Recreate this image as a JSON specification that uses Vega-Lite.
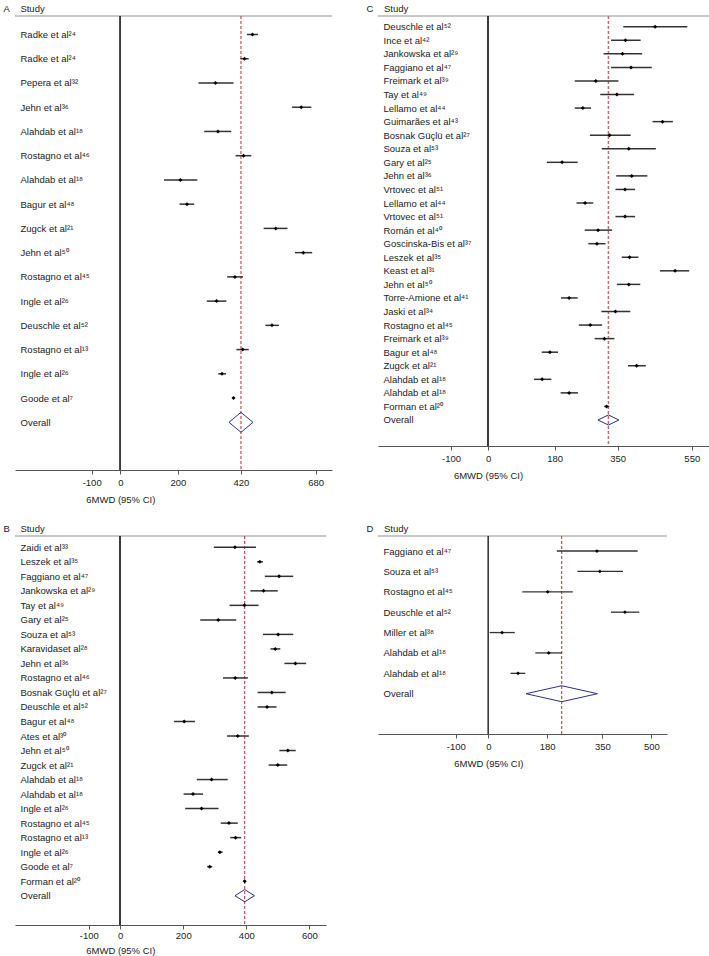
{
  "$schema": "https://vega.github.io/schema/vega-lite/v6.json",
  "padding": {"left": 2, "top": 2, "right": 0, "bottom": 0},
  "autosize": {"type": "pad"},
  "columns": 2,
  "spacing": {"row": 66, "column": 46},
  "bounds": "flush",
  "align": "each",
  "config": {
    "font": "Liberation Sans",
    "locale": {"number": {"decimal": ".", "thousands": ",", "grouping": [3], "currency": ["$", ""], "minus": "-"}},
    "view": {"stroke": null},
    "axis": {"labelFont": "Liberation Sans", "titleFont": "Liberation Sans", "labelColor": "#222", "titleColor": "#222", "titleFontWeight": "normal", "grid": false},
    "axisX": {"orient": "bottom", "domainColor": "#555", "tickColor": "#555", "tickSize": 4, "labelFontSize": 9.5, "labelPadding": 3, "labelFlush": false, "labelOverlap": false, "titleFontSize": 9.5, "titleY": 32, "titleAlign": "center", "titleBaseline": "alphabetic"},
    "axisY": {"orient": "left", "domain": false, "ticks": false, "tickSize": 0, "labelAlign": "left", "labelPadding": -5, "labelBaseline": "middle", "labelFontSize": 9.5, "labelOverlap": false, "titleAngle": 0, "titleX": -12, "titleY": -4.5, "titleAlign": "left", "titleBaseline": "alphabetic", "titleFontSize": 9.5}
  },
  "concat": [
    {
      "width": 317, "height": 454,
      "view": {"stroke": "#c8c8c8", "strokeWidth": 2, "strokeDash": [317, 4000]},
      "data": {"values": [
        {"k": "01|Radke et al²⁴", "est": 460, "lo": 441, "hi": 479, "t": "s"},
        {"k": "02|Radke et al²⁴", "est": 432, "lo": 418, "hi": 447, "t": "s"},
        {"k": "03|Pepera et al³²", "est": 331, "lo": 272, "hi": 394, "t": "s"},
        {"k": "04|Jehn et al³⁶", "est": 630, "lo": 598, "hi": 665, "t": "s"},
        {"k": "05|Alahdab et al¹⁸", "est": 340, "lo": 292, "hi": 386, "t": "s"},
        {"k": "06|Rostagno et al⁴⁶", "est": 429, "lo": 401, "hi": 456, "t": "s"},
        {"k": "07|Alahdab et al¹⁸", "est": 209, "lo": 152, "hi": 268, "t": "s"},
        {"k": "08|Bagur et al⁴⁸", "est": 232, "lo": 206, "hi": 257, "t": "s"},
        {"k": "09|Zugck et al²¹", "est": 541, "lo": 499, "hi": 582, "t": "s"},
        {"k": "10|Jehn et al⁵⁰", "est": 637, "lo": 608, "hi": 668, "t": "s"},
        {"k": "11|Rostagno et al⁴⁵", "est": 399, "lo": 372, "hi": 427, "t": "s"},
        {"k": "12|Ingle et al²⁶", "est": 335, "lo": 301, "hi": 369, "t": "s"},
        {"k": "13|Deuschle et al⁵²", "est": 528, "lo": 505, "hi": 552, "t": "s"},
        {"k": "14|Rostagno et al¹³", "est": 426, "lo": 404, "hi": 447, "t": "s"},
        {"k": "15|Ingle et al²⁶", "est": 354, "lo": 341, "hi": 368, "t": "s"},
        {"k": "16|Goode et al⁷", "est": 394, "lo": 391, "hi": 397, "t": "s"},
        {"k": "17|Overall", "est": 420, "lo": 377, "hi": 461, "t": "o"}
      ]},
      "layer": [
        {"mark": {"type": "rule", "color": "#3a3a3a", "strokeWidth": 1},
         "encoding": {"x": {"datum": 0, "type": "quantitative", "scale": {"domain": [-367, 737], "nice": false, "zero": false},
           "axis": {"values": [-100, 0, 200, 420, 680], "title": "6MWD (95% CI)", "titleX": 105.3}}}},
        {"transform": [{"filter": "datum.t == 'o'"}],
         "mark": {"type": "rule", "color": "#b0303a", "strokeWidth": 1, "strokeDash": [3, 2]},
         "encoding": {"x": {"field": "est", "type": "quantitative", "scale": {"domain": [-367, 737], "nice": false, "zero": false},
           "axis": {"values": [-100, 0, 200, 420, 680], "title": "6MWD (95% CI)", "titleX": 105.3}}}},
        {"transform": [{"filter": "datum.t == 's'"}],
         "mark": {"type": "rule", "color": "#333", "strokeWidth": 1.5},
         "encoding": {"x": {"field": "lo", "type": "quantitative", "scale": {"domain": [-367, 737], "nice": false, "zero": false},
           "axis": {"values": [-100, 0, 200, 420, 680], "title": "6MWD (95% CI)", "titleX": 105.3}}, "x2": {"field": "hi"},
           "y": {"field": "k", "type": "nominal", "scale": {"type": "point", "padding": 0.8656, "align": 0.4409,
             "domain": ["01|Radke et al²⁴", "02|Radke et al²⁴", "03|Pepera et al³²", "04|Jehn et al³⁶", "05|Alahdab et al¹⁸", "06|Rostagno et al⁴⁶", "07|Alahdab et al¹⁸", "08|Bagur et al⁴⁸", "09|Zugck et al²¹", "10|Jehn et al⁵⁰", "11|Rostagno et al⁴⁵", "12|Ingle et al²⁶", "13|Deuschle et al⁵²", "14|Rostagno et al¹³", "15|Ingle et al²⁶", "16|Goode et al⁷", "17|Overall", "18|"]},
             "axis": {"labelExpr": "split(datum.value, '|')[1]", "title": "A\u00a0\u00a0\u00a0\u00a0Study"}}}},
        {"transform": [{"filter": "datum.t == 's'"}],
         "mark": {"type": "point", "shape": "diamond", "filled": true, "color": "#000", "size": 16, "opacity": 1},
         "encoding": {"x": {"field": "est", "type": "quantitative", "scale": {"domain": [-367, 737], "nice": false, "zero": false},
           "axis": {"values": [-100, 0, 200, 420, 680], "title": "6MWD (95% CI)", "titleX": 105.3}},
           "y": {"field": "k", "type": "nominal", "scale": {"type": "point", "padding": 0.8656, "align": 0.4409},
             "axis": {"labelExpr": "split(datum.value, '|')[1]", "title": "A\u00a0\u00a0\u00a0\u00a0Study"}}}},
        {"transform": [{"filter": "datum.t == 'o'"}],
         "mark": {"type": "point", "shape": "M-1,0L0,-0.833L1,0L0,0.833Z", "filled": false, "stroke": "#2e3080", "strokeWidth": 1, "size": 576, "opacity": 1},
         "encoding": {"x": {"field": "est", "type": "quantitative", "scale": {"domain": [-367, 737], "nice": false, "zero": false},
           "axis": {"values": [-100, 0, 200, 420, 680], "title": "6MWD (95% CI)", "titleX": 105.3}},
           "y": {"field": "k", "type": "nominal", "scale": {"type": "point", "padding": 0.8656, "align": 0.4409},
             "axis": {"labelExpr": "split(datum.value, '|')[1]", "title": "A\u00a0\u00a0\u00a0\u00a0Study"}}}}
      ]
    },
    {
      "width": 331, "height": 430,
      "view": {"stroke": "#c8c8c8", "strokeWidth": 2, "strokeDash": [331, 4000]},
      "data": {"values": [
        {"k": "01|Deuschle et al⁵²", "est": 451, "lo": 365, "hi": 538, "t": "s"},
        {"k": "02|Ince et al⁴²", "est": 371, "lo": 332, "hi": 412, "t": "s"},
        {"k": "03|Jankowska et al²⁹", "est": 363, "lo": 312, "hi": 416, "t": "s"},
        {"k": "04|Faggiano et al⁴⁷", "est": 386, "lo": 332, "hi": 442, "t": "s"},
        {"k": "05|Freimark et al³⁹", "est": 291, "lo": 234, "hi": 352, "t": "s"},
        {"k": "06|Tay et al⁴⁹", "est": 348, "lo": 303, "hi": 394, "t": "s"},
        {"k": "07|Lellamo et al⁴⁴", "est": 256, "lo": 234, "hi": 278, "t": "s"},
        {"k": "08|Guimarães et al⁴³", "est": 471, "lo": 444, "hi": 499, "t": "s"},
        {"k": "09|Bosnak Güçlü et al²⁷", "est": 328, "lo": 275, "hi": 385, "t": "s"},
        {"k": "10|Souza et al⁵³", "est": 380, "lo": 307, "hi": 453, "t": "s"},
        {"k": "11|Gary et al²⁵", "est": 200, "lo": 159, "hi": 242, "t": "s"},
        {"k": "12|Jehn et al³⁶", "est": 388, "lo": 346, "hi": 430, "t": "s"},
        {"k": "13|Vrtovec et al⁵¹", "est": 370, "lo": 344, "hi": 397, "t": "s"},
        {"k": "14|Lellamo et al⁴⁴", "est": 262, "lo": 239, "hi": 284, "t": "s"},
        {"k": "15|Vrtovec et al⁵¹", "est": 370, "lo": 344, "hi": 397, "t": "s"},
        {"k": "16|Román et al⁴⁰", "est": 297, "lo": 261, "hi": 335, "t": "s"},
        {"k": "17|Goscinska-Bis et al³⁷", "est": 294, "lo": 271, "hi": 317, "t": "s"},
        {"k": "18|Leszek et al³⁵", "est": 382, "lo": 361, "hi": 406, "t": "s"},
        {"k": "19|Keast et al³¹", "est": 505, "lo": 464, "hi": 543, "t": "s"},
        {"k": "20|Jehn et al⁵⁰", "est": 380, "lo": 348, "hi": 411, "t": "s"},
        {"k": "21|Torre-Amione et al⁴¹", "est": 219, "lo": 197, "hi": 242, "t": "s"},
        {"k": "22|Jaski et al³⁴", "est": 344, "lo": 306, "hi": 384, "t": "s"},
        {"k": "23|Rostagno et al⁴⁵", "est": 276, "lo": 245, "hi": 308, "t": "s"},
        {"k": "24|Freimark et al³⁹", "est": 314, "lo": 288, "hi": 341, "t": "s"},
        {"k": "25|Bagur et al⁴⁸", "est": 167, "lo": 145, "hi": 189, "t": "s"},
        {"k": "26|Zugck et al²¹", "est": 401, "lo": 378, "hi": 426, "t": "s"},
        {"k": "27|Alahdab et al¹⁸", "est": 146, "lo": 124, "hi": 171, "t": "s"},
        {"k": "28|Alahdab et al¹⁸", "est": 219, "lo": 196, "hi": 243, "t": "s"},
        {"k": "29|Forman et al²⁰", "est": 320, "lo": 314, "hi": 327, "t": "s"},
        {"k": "30|Overall", "est": 325, "lo": 297, "hi": 354, "t": "o"}
      ]},
      "layer": [
        {"mark": {"type": "rule", "color": "#3a3a3a", "strokeWidth": 1},
         "encoding": {"x": {"datum": 0, "type": "quantitative", "scale": {"domain": [-297, 596.5], "nice": false, "zero": false},
           "axis": {"values": [-100, 0, 180, 350, 550], "title": "6MWD (95% CI)", "titleX": 110}}}},
        {"transform": [{"filter": "datum.t == 'o'"}],
         "mark": {"type": "rule", "color": "#c06a78", "strokeWidth": 1.5, "strokeDash": [3, 2]},
         "encoding": {"x": {"field": "est", "type": "quantitative", "scale": {"domain": [-297, 596.5], "nice": false, "zero": false},
           "axis": {"values": [-100, 0, 180, 350, 550], "title": "6MWD (95% CI)", "titleX": 110}}}},
        {"transform": [{"filter": "datum.t == 's'"}],
         "mark": {"type": "rule", "color": "#333", "strokeWidth": 1.5},
         "encoding": {"x": {"field": "lo", "type": "quantitative", "scale": {"domain": [-297, 596.5], "nice": false, "zero": false},
           "axis": {"values": [-100, 0, 180, 350, 550], "title": "6MWD (95% CI)", "titleX": 110}}, "x2": {"field": "hi"},
           "y": {"field": "k", "type": "nominal", "scale": {"type": "point", "padding": 0.853, "align": 0.4624,
             "domain": ["01|Deuschle et al⁵²", "02|Ince et al⁴²", "03|Jankowska et al²⁹", "04|Faggiano et al⁴⁷", "05|Freimark et al³⁹", "06|Tay et al⁴⁹", "07|Lellamo et al⁴⁴", "08|Guimarães et al⁴³", "09|Bosnak Güçlü et al²⁷", "10|Souza et al⁵³", "11|Gary et al²⁵", "12|Jehn et al³⁶", "13|Vrtovec et al⁵¹", "14|Lellamo et al⁴⁴", "15|Vrtovec et al⁵¹", "16|Román et al⁴⁰", "17|Goscinska-Bis et al³⁷", "18|Leszek et al³⁵", "19|Keast et al³¹", "20|Jehn et al⁵⁰", "21|Torre-Amione et al⁴¹", "22|Jaski et al³⁴", "23|Rostagno et al⁴⁵", "24|Freimark et al³⁹", "25|Bagur et al⁴⁸", "26|Zugck et al²¹", "27|Alahdab et al¹⁸", "28|Alahdab et al¹⁸", "29|Forman et al²⁰", "30|Overall", "31|"]},
             "axis": {"labelExpr": "split(datum.value, '|')[1]", "title": "C\u00a0\u00a0\u00a0\u00a0Study"}}}},
        {"transform": [{"filter": "datum.t == 's'"}],
         "mark": {"type": "point", "shape": "diamond", "filled": true, "color": "#000", "size": 16, "opacity": 1},
         "encoding": {"x": {"field": "est", "type": "quantitative", "scale": {"domain": [-297, 596.5], "nice": false, "zero": false},
           "axis": {"values": [-100, 0, 180, 350, 550], "title": "6MWD (95% CI)", "titleX": 110}},
           "y": {"field": "k", "type": "nominal", "scale": {"type": "point", "padding": 0.853, "align": 0.4624},
             "axis": {"labelExpr": "split(datum.value, '|')[1]", "title": "C\u00a0\u00a0\u00a0\u00a0Study"}}}},
        {"transform": [{"filter": "datum.t == 'o'"}],
         "mark": {"type": "point", "shape": "M-1,0L0,-0.48L1,0L0,0.48Z", "filled": false, "stroke": "#2e3080", "strokeWidth": 1, "size": 441, "opacity": 1},
         "encoding": {"x": {"field": "est", "type": "quantitative", "scale": {"domain": [-297, 596.5], "nice": false, "zero": false},
           "axis": {"values": [-100, 0, 180, 350, 550], "title": "6MWD (95% CI)", "titleX": 110}},
           "y": {"field": "k", "type": "nominal", "scale": {"type": "point", "padding": 0.853, "align": 0.4624},
             "axis": {"labelExpr": "split(datum.value, '|')[1]", "title": "C\u00a0\u00a0\u00a0\u00a0Study"}}}}
      ]
    },
    {
      "width": 311, "height": 389,
      "view": {"stroke": "#c8c8c8", "strokeWidth": 2, "strokeDash": [311, 4000]},
      "data": {"values": [
        {"k": "01|Zaidi et al³³", "est": 364, "lo": 297, "hi": 431, "t": "s"},
        {"k": "02|Leszek et al³⁵", "est": 443, "lo": 434, "hi": 453, "t": "s"},
        {"k": "03|Faggiano et al⁴⁷", "est": 504, "lo": 459, "hi": 549, "t": "s"},
        {"k": "04|Jankowska et al²⁹", "est": 455, "lo": 413, "hi": 500, "t": "s"},
        {"k": "05|Tay et al⁴⁹", "est": 394, "lo": 347, "hi": 439, "t": "s"},
        {"k": "06|Gary et al²⁵", "est": 311, "lo": 254, "hi": 368, "t": "s"},
        {"k": "07|Souza et al⁵³", "est": 501, "lo": 453, "hi": 549, "t": "s"},
        {"k": "08|Karavidaset al²⁸", "est": 492, "lo": 477, "hi": 508, "t": "s"},
        {"k": "09|Jehn et al³⁶", "est": 556, "lo": 521, "hi": 590, "t": "s"},
        {"k": "10|Rostagno et al⁴⁶", "est": 365, "lo": 326, "hi": 405, "t": "s"},
        {"k": "11|Bosnak Güçlü et al²⁷", "est": 481, "lo": 436, "hi": 525, "t": "s"},
        {"k": "12|Deuschle et al⁵²", "est": 466, "lo": 436, "hi": 496, "t": "s"},
        {"k": "13|Bagur et al⁴⁸", "est": 203, "lo": 171, "hi": 237, "t": "s"},
        {"k": "14|Ates et al³⁰", "est": 373, "lo": 339, "hi": 408, "t": "s"},
        {"k": "15|Jehn et al⁵⁰", "est": 532, "lo": 505, "hi": 557, "t": "s"},
        {"k": "16|Zugck et al²¹", "est": 500, "lo": 471, "hi": 530, "t": "s"},
        {"k": "17|Alahdab et al¹⁸", "est": 290, "lo": 243, "hi": 341, "t": "s"},
        {"k": "18|Alahdab et al¹⁸", "est": 231, "lo": 201, "hi": 263, "t": "s"},
        {"k": "19|Ingle et al²⁶", "est": 258, "lo": 206, "hi": 312, "t": "s"},
        {"k": "20|Rostagno et al⁴⁵", "est": 345, "lo": 319, "hi": 373, "t": "s"},
        {"k": "21|Rostagno et al¹³", "est": 366, "lo": 349, "hi": 384, "t": "s"},
        {"k": "22|Ingle et al²⁶", "est": 316, "lo": 310, "hi": 325, "t": "s"},
        {"k": "23|Goode et al⁷", "est": 284, "lo": 276, "hi": 292, "t": "s"},
        {"k": "24|Forman et al²⁰", "est": 395, "lo": 391, "hi": 399, "t": "s"},
        {"k": "25|Overall", "est": 395, "lo": 362, "hi": 424, "t": "o"}
      ]},
      "layer": [
        {"mark": {"type": "rule", "color": "#3a3a3a", "strokeWidth": 1},
         "encoding": {"x": {"datum": 0, "type": "quantitative", "scale": {"domain": [-334, 653], "nice": false, "zero": false},
           "axis": {"values": [-100, 0, 200, 400, 600], "title": "6MWD (95% CI)", "titleX": 105.3, "labelPadding": 1, "titleY": 28}}}},
        {"transform": [{"filter": "datum.t == 'o'"}],
         "mark": {"type": "rule", "color": "#b0303a", "strokeWidth": 1, "strokeDash": [3, 2]},
         "encoding": {"x": {"field": "est", "type": "quantitative", "scale": {"domain": [-334, 653], "nice": false, "zero": false},
           "axis": {"values": [-100, 0, 200, 400, 600], "title": "6MWD (95% CI)", "titleX": 105.3, "labelPadding": 1, "titleY": 28}}}},
        {"transform": [{"filter": "datum.t == 's'"}],
         "mark": {"type": "rule", "color": "#333", "strokeWidth": 1.5},
         "encoding": {"x": {"field": "lo", "type": "quantitative", "scale": {"domain": [-334, 653], "nice": false, "zero": false},
           "axis": {"values": [-100, 0, 200, 400, 600], "title": "6MWD (95% CI)", "titleX": 105.3, "labelPadding": 1, "titleY": 28}}, "x2": {"field": "hi"},
           "y": {"field": "k", "type": "nominal", "scale": {"type": "point", "padding": 0.8985, "align": 0.433,
             "domain": ["01|Zaidi et al³³", "02|Leszek et al³⁵", "03|Faggiano et al⁴⁷", "04|Jankowska et al²⁹", "05|Tay et al⁴⁹", "06|Gary et al²⁵", "07|Souza et al⁵³", "08|Karavidaset al²⁸", "09|Jehn et al³⁶", "10|Rostagno et al⁴⁶", "11|Bosnak Güçlü et al²⁷", "12|Deuschle et al⁵²", "13|Bagur et al⁴⁸", "14|Ates et al³⁰", "15|Jehn et al⁵⁰", "16|Zugck et al²¹", "17|Alahdab et al¹⁸", "18|Alahdab et al¹⁸", "19|Ingle et al²⁶", "20|Rostagno et al⁴⁵", "21|Rostagno et al¹³", "22|Ingle et al²⁶", "23|Goode et al⁷", "24|Forman et al²⁰", "25|Overall", "26|"]},
             "axis": {"labelExpr": "split(datum.value, '|')[1]", "title": "B\u00a0\u00a0\u00a0\u00a0Study"}}}},
        {"transform": [{"filter": "datum.t == 's'"}],
         "mark": {"type": "point", "shape": "diamond", "filled": true, "color": "#000", "size": 16, "opacity": 1},
         "encoding": {"x": {"field": "est", "type": "quantitative", "scale": {"domain": [-334, 653], "nice": false, "zero": false},
           "axis": {"values": [-100, 0, 200, 400, 600], "title": "6MWD (95% CI)", "titleX": 105.3, "labelPadding": 1, "titleY": 28}},
           "y": {"field": "k", "type": "nominal", "scale": {"type": "point", "padding": 0.8985, "align": 0.433},
             "axis": {"labelExpr": "split(datum.value, '|')[1]", "title": "B\u00a0\u00a0\u00a0\u00a0Study"}}}},
        {"transform": [{"filter": "datum.t == 'o'"}],
         "mark": {"type": "point", "shape": "M-1,0L0,-0.63L1,0L0,0.63Z", "filled": false, "stroke": "#2e3080", "strokeWidth": 1, "size": 380, "opacity": 1},
         "encoding": {"x": {"field": "est", "type": "quantitative", "scale": {"domain": [-334, 653], "nice": false, "zero": false},
           "axis": {"values": [-100, 0, 200, 400, 600], "title": "6MWD (95% CI)", "titleX": 105.3, "labelPadding": 1, "titleY": 28}},
           "y": {"field": "k", "type": "nominal", "scale": {"type": "point", "padding": 0.8985, "align": 0.433},
             "axis": {"labelExpr": "split(datum.value, '|')[1]", "title": "B\u00a0\u00a0\u00a0\u00a0Study"}}}}
      ]
    },
    {
      "width": 289, "height": 198,
      "view": {"stroke": "#c8c8c8", "strokeWidth": 2, "strokeDash": [289, 4000]},
      "data": {"values": [
        {"k": "1|Faggiano et al⁴⁷", "est": 333, "lo": 210, "hi": 458, "t": "s"},
        {"k": "2|Souza et al⁵³", "est": 342, "lo": 273, "hi": 413, "t": "s"},
        {"k": "3|Rostagno et al⁴⁵", "est": 182, "lo": 104, "hi": 259, "t": "s"},
        {"k": "4|Deuschle et al⁵²", "est": 419, "lo": 376, "hi": 463, "t": "s"},
        {"k": "5|Miller et al³⁸", "est": 42, "lo": 4, "hi": 81, "t": "s"},
        {"k": "6|Alahdab et al¹⁸", "est": 185, "lo": 144, "hi": 226, "t": "s"},
        {"k": "7|Alahdab et al¹⁸", "est": 91, "lo": 68, "hi": 113, "t": "s"},
        {"k": "8|Overall", "est": 225, "lo": 114, "hi": 333, "t": "o"}
      ]},
      "layer": [
        {"mark": {"type": "rule", "color": "#3a3a3a", "strokeWidth": 1},
         "encoding": {"x": {"datum": 0, "type": "quantitative", "scale": {"domain": [-338.7, 548], "nice": false, "zero": false},
           "axis": {"values": [-100, 0, 180, 350, 500], "title": "6MWD (95% CI)", "titleX": 110.4}}}},
        {"transform": [{"filter": "datum.t == 'o'"}],
         "mark": {"type": "rule", "color": "#b0303a", "strokeWidth": 1, "strokeDash": [3, 2]},
         "encoding": {"x": {"field": "est", "type": "quantitative", "scale": {"domain": [-338.7, 548], "nice": false, "zero": false},
           "axis": {"values": [-100, 0, 180, 350, 500], "title": "6MWD (95% CI)", "titleX": 110.4}}}},
        {"transform": [{"filter": "datum.t == 's'"}],
         "mark": {"type": "rule", "color": "#333", "strokeWidth": 1.3},
         "encoding": {"x": {"field": "lo", "type": "quantitative", "scale": {"domain": [-338.7, 548], "nice": false, "zero": false},
           "axis": {"values": [-100, 0, 180, 350, 500], "title": "6MWD (95% CI)", "titleX": 110.4}}, "x2": {"field": "hi"},
           "y": {"field": "k", "type": "nominal", "scale": {"type": "point", "padding": 0.856, "align": 0.43,
             "domain": ["1|Faggiano et al⁴⁷", "2|Souza et al⁵³", "3|Rostagno et al⁴⁵", "4|Deuschle et al⁵²", "5|Miller et al³⁸", "6|Alahdab et al¹⁸", "7|Alahdab et al¹⁸", "8|Overall", "9|"]},
             "axis": {"labelExpr": "split(datum.value, '|')[1]", "title": "D\u00a0\u00a0\u00a0\u00a0Study"}}}},
        {"transform": [{"filter": "datum.t == 's'"}],
         "mark": {"type": "point", "shape": "diamond", "filled": true, "color": "#000", "size": 14, "opacity": 1},
         "encoding": {"x": {"field": "est", "type": "quantitative", "scale": {"domain": [-338.7, 548], "nice": false, "zero": false},
           "axis": {"values": [-100, 0, 180, 350, 500], "title": "6MWD (95% CI)", "titleX": 110.4}},
           "y": {"field": "k", "type": "nominal", "scale": {"type": "point", "padding": 0.856, "align": 0.43},
             "axis": {"labelExpr": "split(datum.value, '|')[1]", "title": "D\u00a0\u00a0\u00a0\u00a0Study"}}}},
        {"transform": [{"filter": "datum.t == 'o'"}],
         "mark": {"type": "point", "shape": "M-1,0L0,-0.224L1,0L0,0.224Z", "filled": false, "stroke": "#2e3080", "strokeWidth": 1, "size": 5100, "opacity": 1},
         "encoding": {"x": {"field": "est", "type": "quantitative", "scale": {"domain": [-338.7, 548], "nice": false, "zero": false},
           "axis": {"values": [-100, 0, 180, 350, 500], "title": "6MWD (95% CI)", "titleX": 110.4}},
           "y": {"field": "k", "type": "nominal", "scale": {"type": "point", "padding": 0.856, "align": 0.43},
             "axis": {"labelExpr": "split(datum.value, '|')[1]", "title": "D\u00a0\u00a0\u00a0\u00a0Study"}}}}
      ]
    }
  ]
}
